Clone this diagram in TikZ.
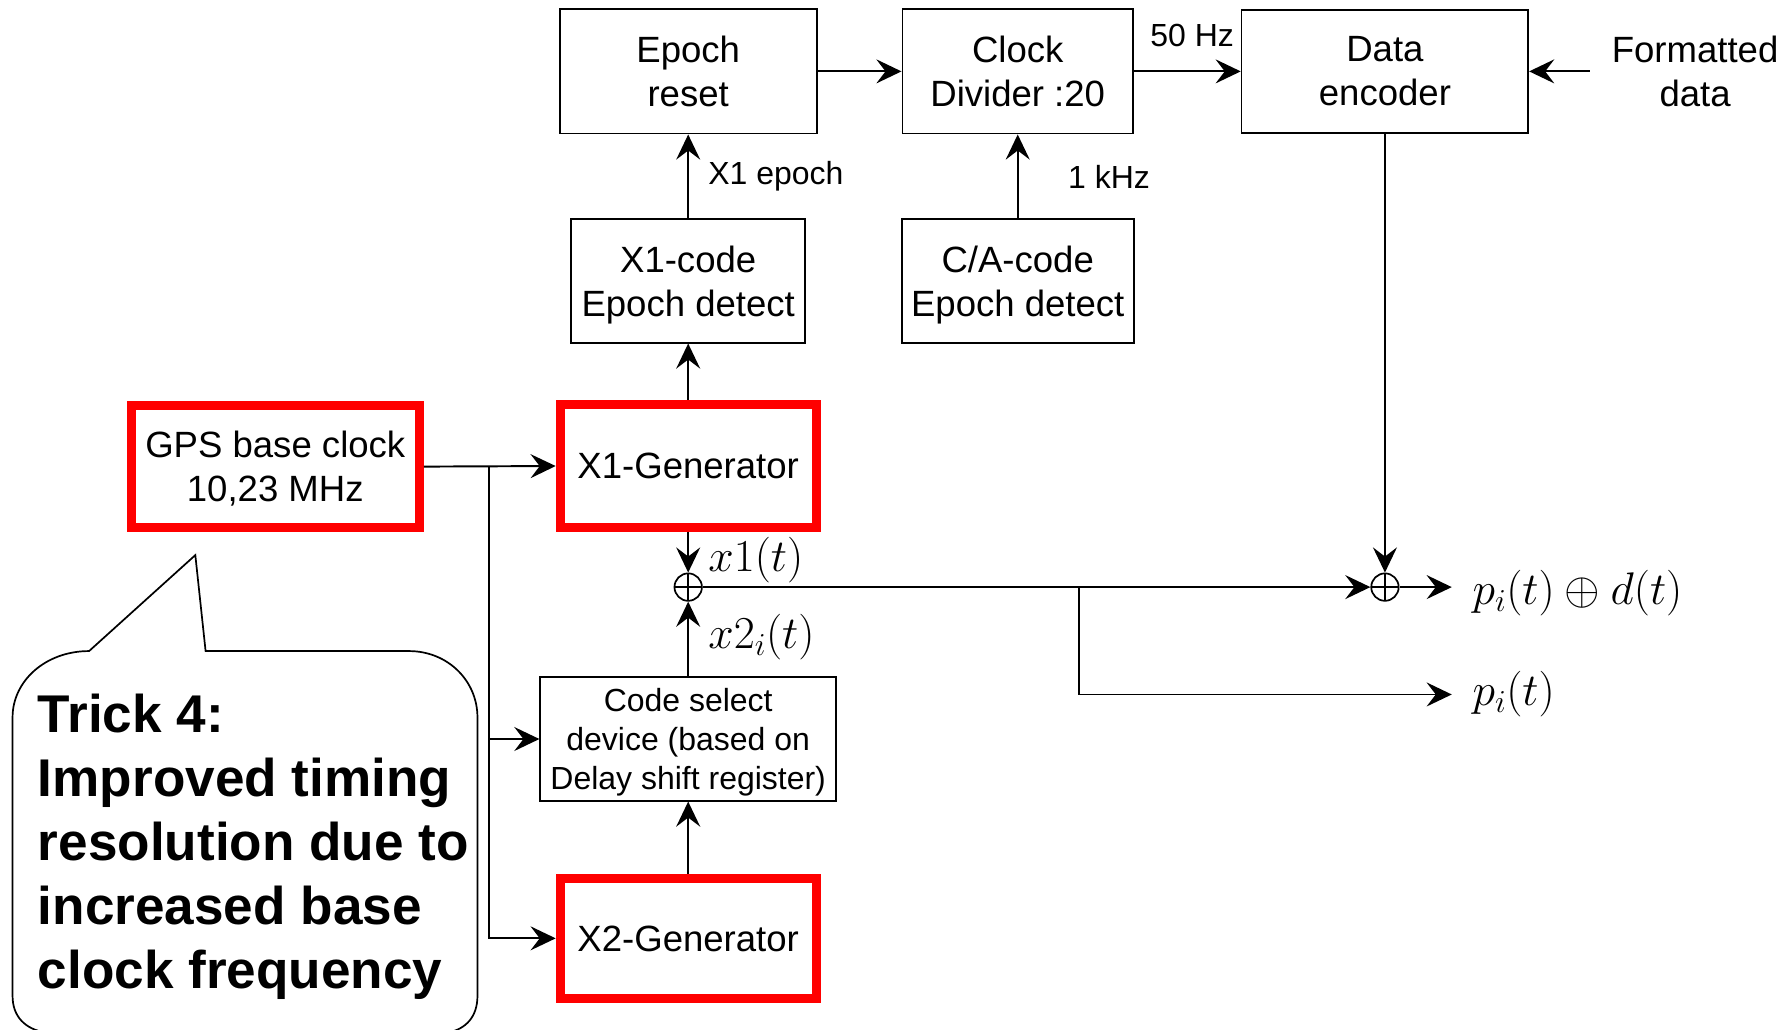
\RequirePackage{fix-cm}
\documentclass[tikz,border=0pt]{standalone}
\usepackage[no-math]{fontspec}
\setmainfont{Liberation Sans}
\usetikzlibrary{arrows.meta}
\definecolor{alarm}{RGB}{255,0,0}

\begin{document}
\begin{tikzpicture}[x=1pt,y=-1pt,
  base/.style={font=\fontsize{32}{38.5}\selectfont, align=center, inner sep=0pt, text depth=0pt},
  blk/.style={base, draw, line width=1.5pt},
  redblk/.style={base, draw=alarm, line width=8pt},
  smallblk/.style={blk, font=\fontsize{28}{34}\selectfont},
  lab/.style={font=\fontsize{28}{33.6}\selectfont, anchor=west, inner sep=0pt},
  mlab/.style={font=\fontsize{40}{44}\selectfont, anchor=west, inner sep=0pt},
  arr/.style={line width=1.7pt, -{Stealth[length=22pt,width=21pt,inset=8pt]}},
  wire/.style={line width=1.7pt},
  xor/.style={draw, circle, line width=1.5pt, minimum size=24pt, inner sep=0pt,
    path picture={\draw[line width=1.5pt]
      (path picture bounding box.north) -- (path picture bounding box.south)
      (path picture bounding box.west) -- (path picture bounding box.east);}}]

\useasboundingbox (0,0) rectangle (1568,901);

% top row
\node[blk, minimum width=225pt, minimum height=109pt] (er) at (602.5,62.5) {Epoch\\reset};
\node[blk, minimum width=202pt, minimum height=109pt] (cd) at (891,62.5) {Clock\\Divider :20};
\node[blk, minimum width=251pt, minimum height=108pt] (de) at (1212.5,62.5) {Data\\encoder};
\node[base, inner xsep=19pt] (fd) at (1484,62.5) {Formatted\\data};

% epoch detectors
\node[blk, minimum width=205pt, minimum height=108pt] (x1e) at (602.5,246) {X1-code\\Epoch detect};
\node[blk, minimum width=203pt, minimum height=108pt] (cae) at (891,246) {C/A-code\\Epoch detect};

% generators and clock
\node[redblk, minimum width=224pt, minimum height=108pt] (x1g) at (602.5,408) {X1-Generator};
\node[redblk, minimum width=252pt, minimum height=107pt] (gps) at (241,408.5) {GPS base clock\\10,23 MHz};
\node[smallblk, minimum width=259pt, minimum height=108pt] (cs) at (602.5,647) {Code select\\device (based on\\Delay shift register)};
\node[redblk, minimum width=224pt, minimum height=105pt] (x2g) at (602.5,821.5) {X2-Generator};

% modulo-2 adders
\node[xor] (o1) at (602.5,514) {};
\node[xor] (o2) at (1212.5,514) {};

% outputs
\node[mlab, inner xsep=18pt] (pd) at (1271,519) {$p_i(t)\oplus d(t)$};
\node[mlab, inner xsep=18pt] (po) at (1271,608) {$p_i(t)$};

% connectors along the top
\draw[arr] (er.east) -- (cd.west);
\draw[arr] (cd.east) -- (de.west);
\node[lab] (f50) at (1007,31) {50 Hz};
\draw[arr] (fd.west) -- (fd.west -| de.east);
\draw[arr] (x1e.north) -- (er.south);
\node[lab] (lx1) at (620,154) {X1 epoch};
\draw[arr] (cae.north) -- (cd.south);
\node[lab] (lk) at (935,155) {1 kHz};
\draw[arr] (x1g.north) -- (x1e.south);

% clock distribution
\coordinate (j) at (428,408.5);
\draw[arr] (gps.east) -- (x1g.west);
\draw[wire] (j) -- (j |- x2g.west);
\draw[arr] (j) |- (cs.west);
\draw[arr] (j) |- (x2g.west);

% code combination
\draw[arr] (x1g.south) -- (o1.north);
\node[mlab] (lx1t) at (620,490) {$x1(t)$};
\draw[arr] (cs.north) -- (o1.south);
\node[mlab] (lx2t) at (620,558) {$x2_i(t)$};
\draw[arr] (x2g.north) -- (cs.south);
\draw[arr] (o1.east) -- (o2.west);
\draw[arr] (de.south) -- (o2.north);
\draw[arr] (o2.east) -- (o2.east -| pd.west);
\coordinate (b) at (945,514);
\draw[arr] (b) |- (b |- po.west) -- (po.west);

% speech bubble
\draw[line width=1.5pt, fill=white]
  (78,570) -- (171,486) -- (180,570) -- (358,570)
  .. controls (392,570) and (418,596) .. (418,628)
  -- (418,872) .. controls (418,890) and (408,901) .. (392,904)
  -- (40,904) .. controls (22,901) and (11,890) .. (11,872)
  -- (11,628) .. controls (11,596) and (40,570) .. (78,570) -- cycle;
\node[font=\fontsize{46.5}{56}\selectfont\bfseries, align=left, anchor=west, inner sep=0pt] (trick)
  at (33,741) {Trick 4:\\Improved timing\\resolution due to\\increased base\\clock frequency};
\end{tikzpicture}
\end{document}
